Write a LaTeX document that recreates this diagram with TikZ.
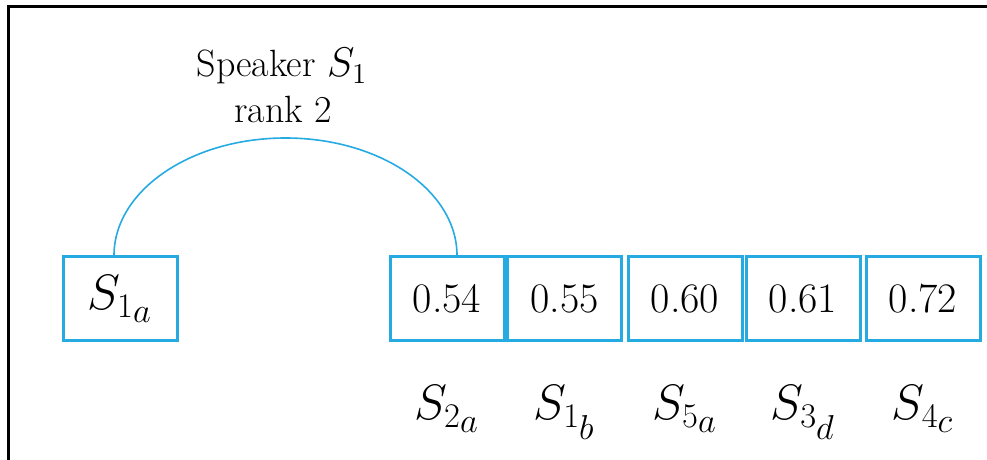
\documentclass[tikz,border=0pt]{standalone}
\usepackage{amsmath}
\definecolor{boxblue}{RGB}{38,170,226}
\tikzset{
    valbox/.style={draw=boxblue, line width=1.5pt, minimum width=57pt, minimum height=42pt, inner sep=0pt,
        font=\fontsize{21}{25}\selectfont},
    spklabel/.style={inner sep=0pt, font=\fontsize{24}{28}\selectfont},
    toptext/.style={inner sep=0pt, font=\fontsize{19}{23}\selectfont},
    arcline/.style={draw=boxblue, line width=0.8pt},
    frameline/.style={draw=black, line width=1.5pt}
}
\begin{document}
\begin{tikzpicture}[x=0.5pt, y=-0.5pt]
    \useasboundingbox (0,0) rectangle (987,460);
    % frame (top and left edges only)
    \draw[frameline] (8,460) -- (8,6.5) -- (987,6.5);

    % query segment
    \node[valbox, font=\fontsize{24}{28}\selectfont] (s1a) at (120,299) {$S_{1_{\scriptstyle a}}$};

    % ranked scores with their segments
    \foreach \x/\v/\spk/\utt [count=\i] in {447/0.54/2/a, 564.5/0.55/1/b, 685/0.60/5/a, 803/0.61/3/d, 923/0.72/4/c} {
        \node[valbox] (v\i) at (\x,298.5) {\v};
        \node[spklabel, anchor=base] (l\i) at (\x,420) {$S_{\spk_{\scriptstyle\utt}}$};
    }

    % link to first match of the same speaker
    \draw[arcline] ([xshift=-3pt]s1a.north) arc[start angle=180, end angle=0, x radius=85.75pt, y radius=58.75pt];
    \node[toptext, anchor=base] (spk) at (282,77) {Speaker {\fontsize{22}{23}\selectfont$S_1$}};
    \node[toptext, anchor=base] (rnk) at (283,123) {rank 2};
\end{tikzpicture}
\end{document}
